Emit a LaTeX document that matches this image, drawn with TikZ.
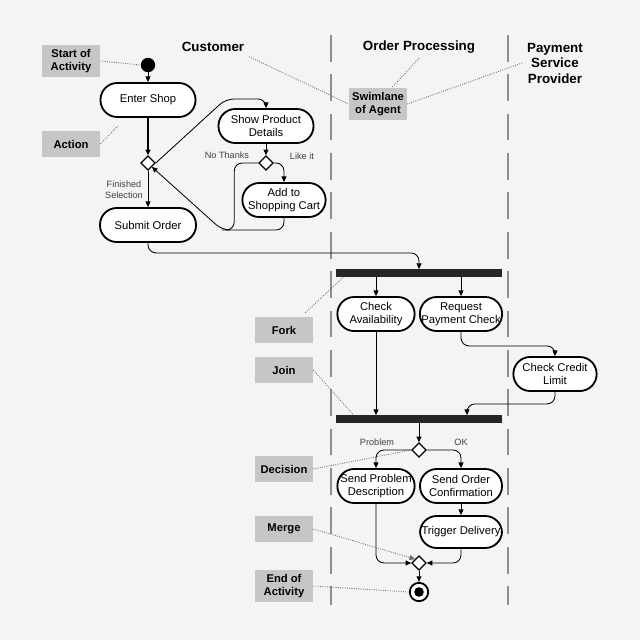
\documentclass[tikz,border=0pt]{standalone}
\usepackage{fontspec}
\setmainfont{Liberation Sans}
\usetikzlibrary{shapes.geometric,arrows.meta}
\definecolor{paper}{HTML}{F4F4F4}
\definecolor{tagfill}{HTML}{C6C6C6}
\definecolor{lanegray}{HTML}{8E8E8E}

\tikzset{
  action/.style={draw, line width=1.3pt, rounded corners=0.42cm, fill=white, minimum height=0.85cm, align=center, inner sep=1pt, font=\fontsize{8}{9.5}\selectfont},
  tag/.style={fill=tagfill, minimum width=1.45cm, minimum height=0.65cm, align=center, inner xsep=1pt, inner ysep=3pt, font=\bfseries\fontsize{8}{9.5}\selectfont},
  lanehead/.style={align=center, font=\bfseries\fontsize{9.5}{11}\selectfont},
  choice/.style={diamond, draw, fill=white, line width=0.8pt, minimum size=0.36cm, inner sep=0},
  bar/.style={fill=black!85, minimum width=4.15cm, minimum height=0.18cm, inner sep=0},
  flow/.style={-{Triangle[length=4pt,width=3.5pt]}, line width=0.6pt, rounded corners=0.2cm},
  leader/.style={densely dotted, line width=0.6pt, draw=black!60},
  guard/.style={font=\fontsize{6.5}{7.5}\selectfont, text=black!75, align=center},
  lane/.style={draw=lanegray, line width=1.3pt, dash pattern=on 19pt off 9pt}
}

\begin{document}
\begin{tikzpicture}[x=0.025cm, y=-0.025cm]
\fill[paper] (0,0) rectangle (640,640);
\draw[lane] (331,35) -- (331,605);
\draw[lane] (508,35) -- (508,605);

\node[lanehead] (customer) at (213,47) {Customer};
\node[lanehead] (orderlane) at (419,47) {Order Processing};
\node[lanehead] (paylane) at (555,63) {Payment\\Service\\Provider};

\node[tag] (tagstart) at (71,61) {Start of\\Activity};
\node[tag] (tagaction) at (71,144) {Action};
\node[tag] (tagswim) at (378,104) {Swimlane\\of Agent};
\node[tag] (tagfork) at (284,330) {Fork};
\node[tag] (tagjoin) at (284,370) {Join};
\node[tag] (tagdecision) at (284,469) {Decision};
\node[tag] (tagmerge) at (284,529) {Merge};
\node[tag] (tagend) at (284,586) {End of\\Activity};

\node[circle, fill=black, minimum size=0.36cm, inner sep=0] (start) at (148,65) {};
\node[action, minimum width=2.375cm] (enter) at (148,100) {Enter Shop};
\node[choice] (pick) at (148,163) {};
\node[action, minimum width=2.375cm] (show) at (266,126) {Show Product\\Details};
\node[choice] (like) at (266,163) {};
\node[action, minimum width=2.08cm] (cart) at (284,200) {Add to\\Shopping Cart};
\node[action, minimum width=2.4cm] (submit) at (148,225) {Submit Order};
\node[bar] (fork) at (419,273) {};
\node[action, minimum width=1.93cm] (avail) at (376,314) {Check\\Availability};
\node[action, minimum width=2.05cm] (request) at (461,314) {Request\\Payment Check};
\node[action, minimum width=2.08cm] (credit) at (555,374) {Check Credit\\Limit};
\node[bar] (join) at (419,419) {};
\node[choice] (result) at (419,450) {};
\node[action, minimum width=1.93cm] (problem) at (376,486) {Send Problem\\Description};
\node[action, minimum width=2.05cm] (confirm) at (461,486) {Send Order\\Confirmation};
\node[action, minimum width=2.05cm, minimum height=0.8cm] (deliver) at (461,532) {Trigger Delivery};
\node[choice] (merge) at (419,563) {};
\node[circle, draw, line width=1.3pt, fill=white, minimum size=0.46cm, inner sep=0] (finish) at (419,592) {};
\node[circle, fill=black, minimum size=0.24cm, inner sep=0] (finishdot) at (finish) {};

\node[guard, anchor=east] (nothanks) at (254,155) {No Thanks};
\node[guard, anchor=west] (likeit) at (285,156) {Like it};
\node[guard] (finished) at (124,190) {Finished\\Selection};
\node[guard] (probtext) at (377,442) {Problem};
\node[guard] (oktext) at (461,442) {OK};

\coordinate (back) at (222,230);

\draw[flow] (start) -- (enter);
\draw[flow, line width=1.3pt] (enter) -- (pick);
\draw[flow] (pick.east) -- ++(70,-64) -| (show.north);
\draw[flow] (show) -- (like);
\draw[flow] (like.east) -| (cart.north);
\draw[flow] (like.west) -- ++(-24,0) |- (back) -- (pick.south east);
\draw[line width=0.6pt, rounded corners=0.2cm] (cart.south) |- (back);
\draw[flow] (pick) -- (submit);
\draw[flow] (submit.south) -- ++(0,10) -| (fork.north);
\draw[flow] (fork.south -| avail.north) -- (avail.north);
\draw[flow] (fork.south -| request.north) -- (request.north);
\draw[flow] (request.south) -- ++(0,14) -| (credit.north);
\draw[flow] (avail.south) -- (avail.south |- join.north);
\draw[flow] (credit.south) -- ++(0,12) -| ([xshift=1.2cm]join.north);
\draw[flow] (join) -- (result);
\draw[flow] (result.west) -| (problem.north);
\draw[flow] (result.east) -| (confirm.north);
\draw[flow] (confirm) -- (deliver);
\draw[flow] (problem.south) |- (merge.west);
\draw[flow] (deliver.south) |- (merge.east);
\draw[flow] (merge) -- (finish);

\draw[leader] (tagstart.east) -- (start.west);
\draw[leader] (tagaction.east) -- ([shift={(-30,8)}]enter.south);
\draw[leader] (customer.south east) -- (tagswim.west);
\draw[leader] (orderlane.south) -- ([xshift=0.35cm]tagswim.north);
\draw[leader] (paylane.west) -- (tagswim.east);
\draw[leader] ([shift={(-8,-4)}]tagfork.north east) -- ([xshift=0.2cm]fork.south west);
\draw[leader] (tagjoin.east) -- ([xshift=0.45cm]join.north west);
\draw[leader] (tagdecision.east) -- (result.west);
\draw[leader, -{Triangle[length=4pt,width=3.5pt]}] (tagmerge.east) -- (merge.north west);
\draw[leader] (tagend.east) -- (finish.west);
\end{tikzpicture}
\end{document}
